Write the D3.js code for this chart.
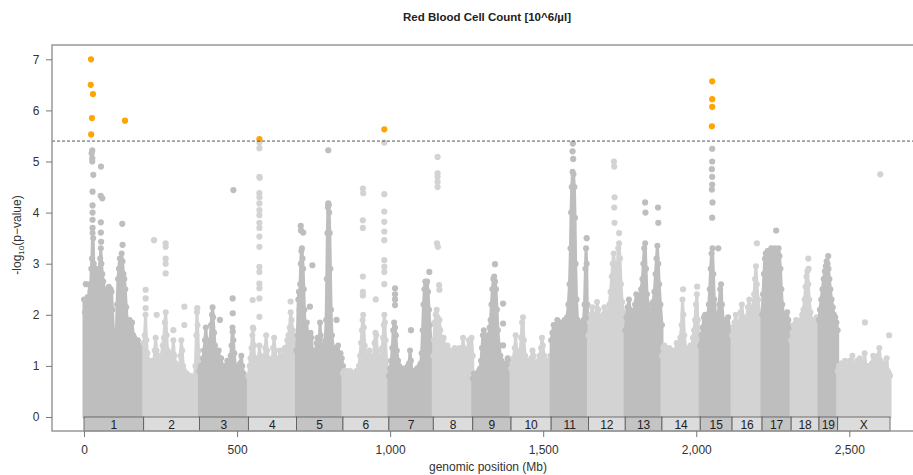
<!DOCTYPE html>
<html><head><meta charset="utf-8">
<script src="https://cdn.jsdelivr.net/npm/d3@7/dist/d3.min.js"></script>
<style>body{margin:0;background:#fff}svg{display:block}text{font-family:"Liberation Sans",Arial,sans-serif;fill:#333}</style>
</head><body><svg id="c" width="913" height="475"></svg>
<script>
// ---- data ----
const chrNames = ["1","2","3","4","5","6","7","8","9","10","11","12","13","14","15","16","17","18","19","X"];
const chrLengths = [195,182,160,157,152,150,145,129,125,131,122,120,120,125,104,98,95,91,61,171];
const xTicks = [0,500,1000,1500,2000,2500];
const yTicks = [0,1,2,3,4,5,6,7];
const threshold = 5.4;
// dense mass upper envelope per chromosome: [genomic Mb, -log10 p]
const massProfile = [
 [[0,2.3],[3,2.05],[6,2.25],[9,2.0],[12,2.35],[15,2.2],[18,2.6],[21,2.45],[24,2.9],[26,3.1],[28,3.6],[30,3.5],[32,3.0],[35,2.75],[38,2.9],[41,2.7],[44,2.85],[47,2.6],[50,2.9],[53,3.1],[55,3.3],[57,3.0],[60,2.8],[63,2.65],[66,2.5],[69,2.3],[72,2.45],[75,2.3],[78,2.5],[81,2.55],[84,2.35],[87,2.5],[90,2.45],[93,2.1],[96,1.7],[99,1.45],[102,1.35],[105,1.4],[108,2.2],[111,2.7],[114,2.9],[117,3.1],[120,3.0],[123,3.2],[126,3.05],[129,2.8],[132,2.7],[135,2.5],[138,2.15],[141,1.9],[145,1.8],[149,1.9],[153,1.75],[157,1.85],[161,1.6],[164,1.55],[168,1.5],[172,1.4],[176,1.5],[180,1.35],[184,1.4],[188,1.3],[192,1.25],[195,1.2]],
 [[195,1.45],[198,1.6],[201,2.0],[204,1.5],[207,1.25],[211,1.1],[215,1.0],[219,0.9],[223,1.1],[227,1.0],[231,1.3],[234,1.55],[237,1.3],[241,1.1],[245,1.2],[249,1.05],[253,1.2],[257,1.4],[261,1.55],[264,1.85],[267,2.05],[270,1.6],[273,1.3],[277,1.15],[281,1.2],[285,1.05],[289,1.25],[292,1.5],[295,1.2],[299,1.05],[303,1.0],[307,0.95],[311,0.85],[315,1.2],[318,1.5],[321,1.3],[324,1.0],[328,0.9],[332,0.8],[336,0.85],[340,0.8],[345,0.75],[350,0.8],[355,0.7],[360,0.75],[364,1.0],[367,1.6],[369,2.05],[371,1.8],[374,1.3],[377,1.1]],
 [[377,0.9],[381,1.0],[385,0.95],[389,1.15],[392,1.3],[395,1.5],[398,1.75],[401,1.5],[404,1.2],[408,1.3],[412,1.5],[415,1.8],[418,2.0],[420,2.15],[422,1.95],[425,1.65],[428,1.4],[432,1.25],[436,1.15],[440,1.3],[444,1.1],[448,1.15],[452,1.0],[456,0.95],[460,1.0],[464,0.9],[468,1.1],[471,1.0],[475,1.05],[479,1.2],[482,1.4],[485,1.75],[488,1.5],[491,1.25],[494,1.0],[498,0.95],[502,0.85],[506,0.9],[510,1.05],[514,1.2],[517,1.0],[521,0.85],[526,0.8],[531,0.75],[537,0.7]],
 [[537,0.8],[541,1.0],[544,1.15],[547,1.35],[550,1.6],[552,1.75],[555,1.4],[558,1.05],[562,1.15],[566,1.0],[570,1.1],[573,1.4],[576,1.2],[580,1.0],[584,0.95],[588,1.1],[592,1.35],[595,1.6],[598,1.3],[602,1.15],[606,1.0],[610,1.05],[614,1.0],[618,1.35],[621,1.55],[624,1.3],[628,1.1],[632,1.0],[636,1.15],[640,1.3],[644,1.05],[648,1.1],[652,1.2],[656,1.35],[660,1.3],[664,1.5],[668,1.6],[672,1.75],[675,2.05],[678,1.9],[682,1.7],[686,1.5],[690,1.4],[694,1.3]],
 [[694,1.3],[697,1.6],[700,2.3],[702,2.45],[704,2.1],[706,2.6],[708,3.0],[710,3.25],[712,3.3],[714,3.1],[716,2.9],[718,2.5],[720,2.1],[722,1.8],[725,1.5],[728,1.85],[731,1.5],[734,1.35],[737,1.4],[740,1.65],[743,1.55],[746,1.3],[749,1.2],[753,1.3],[757,1.25],[760,1.45],[763,1.55],[766,1.35],[769,1.5],[771,1.85],[773,1.6],[776,1.3],[780,1.4],[784,1.3],[788,1.5],[791,1.9],[793,2.7],[795,3.6],[797,4.1],[799,4.15],[801,4.0],[803,3.6],[805,2.9],[807,2.1],[810,1.6],[814,1.35],[818,1.3],[822,1.2],[826,1.35],[830,1.4],[834,1.2],[838,1.25],[842,1.15],[846,1.0]],
 [[846,0.85],[850,0.9],[854,0.85],[858,0.9],[862,0.8],[866,0.85],[870,0.9],[874,0.8],[878,0.75],[882,0.85],[886,0.8],[890,0.9],[894,0.85],[898,1.0],[902,1.2],[905,1.45],[908,1.7],[910,1.9],[912,2.0],[914,1.75],[917,1.4],[920,1.2],[924,1.05],[928,1.1],[932,1.3],[935,1.15],[938,1.0],[942,1.1],[946,1.2],[949,1.45],[952,1.65],[955,1.6],[958,1.3],[962,1.05],[966,1.1],[970,1.2],[974,1.35],[977,1.55],[979,1.8],[981,2.0],[983,1.85],[985,1.5],[988,1.1],[992,0.9],[996,0.8]],
 [[996,0.8],[1000,0.95],[1004,1.1],[1007,1.35],[1010,1.7],[1013,1.85],[1016,1.75],[1019,1.6],[1022,1.3],[1026,1.1],[1030,1.0],[1034,0.9],[1038,0.95],[1042,0.9],[1046,0.95],[1050,0.85],[1054,0.9],[1058,1.0],[1062,1.05],[1065,1.3],[1068,1.1],[1072,0.85],[1076,0.8],[1080,0.9],[1084,0.85],[1088,0.95],[1092,0.9],[1096,1.0],[1100,1.05],[1103,1.25],[1106,1.7],[1109,2.2],[1112,2.5],[1115,2.65],[1118,2.6],[1121,2.65],[1124,2.45],[1127,2.1],[1130,1.8],[1133,1.5],[1137,1.3],[1141,1.1]],
 [[1141,1.2],[1143,1.5],[1146,1.85],[1149,2.0],[1152,2.1],[1155,1.95],[1158,1.75],[1161,1.9],[1164,1.7],[1167,1.5],[1171,1.4],[1175,1.55],[1179,1.35],[1183,1.3],[1187,1.4],[1191,1.25],[1195,1.3],[1199,1.2],[1203,1.3],[1207,1.25],[1211,1.35],[1215,1.2],[1219,1.3],[1223,1.25],[1227,1.35],[1231,1.2],[1235,1.3],[1238,1.55],[1241,1.35],[1245,1.15],[1249,1.2],[1253,1.3],[1257,1.5],[1260,1.35],[1263,1.2],[1266,1.55],[1270,1.2]],
 [[1270,0.75],[1274,0.85],[1278,0.8],[1282,0.75],[1286,0.85],[1290,0.9],[1294,0.95],[1297,1.1],[1300,1.35],[1303,1.6],[1306,1.7],[1310,1.6],[1314,1.45],[1318,1.55],[1322,1.6],[1325,1.75],[1328,1.9],[1331,2.2],[1334,2.5],[1337,2.7],[1340,2.75],[1343,2.65],[1346,2.5],[1349,2.1],[1352,1.7],[1356,1.4],[1360,1.2],[1364,1.1],[1368,1.0],[1372,0.95],[1376,0.9],[1380,1.05],[1384,1.15],[1388,1.1],[1392,1.0],[1395,0.95]],
 [[1395,0.95],[1399,1.05],[1403,1.15],[1407,1.35],[1410,1.6],[1413,1.3],[1417,1.05],[1421,1.15],[1425,1.3],[1428,1.55],[1431,1.85],[1434,1.95],[1437,1.5],[1441,1.2],[1445,1.05],[1449,1.1],[1453,1.0],[1457,1.05],[1461,1.15],[1465,1.3],[1469,1.2],[1473,1.0],[1477,1.05],[1481,0.95],[1485,1.1],[1489,1.2],[1493,1.35],[1496,1.55],[1499,1.4],[1503,1.2],[1507,1.05],[1511,1.1],[1515,1.0],[1519,1.1],[1523,1.2],[1526,1.2]],
 [[1526,1.5],[1530,1.65],[1534,1.8],[1538,1.6],[1542,1.75],[1546,1.9],[1550,1.65],[1554,1.7],[1558,1.85],[1562,1.7],[1566,1.8],[1570,1.9],[1574,1.75],[1578,1.95],[1582,2.2],[1586,2.6],[1589,3.3],[1591,4.0],[1593,4.5],[1596,4.8],[1599,4.75],[1602,4.5],[1604,3.9],[1606,3.0],[1609,2.3],[1612,1.9],[1616,1.8],[1620,1.75],[1624,1.85],[1628,1.7],[1632,1.9],[1635,2.2],[1638,2.9],[1640,3.3],[1642,3.0],[1644,2.2],[1646,1.8],[1648,1.6]],
 [[1648,1.6],[1652,1.85],[1656,2.0],[1660,2.15],[1664,1.9],[1668,1.8],[1672,2.0],[1676,2.25],[1680,2.1],[1684,1.95],[1688,1.85],[1692,1.9],[1696,2.0],[1700,2.15],[1704,1.95],[1708,1.9],[1712,2.05],[1716,2.2],[1720,2.45],[1724,2.75],[1727,3.0],[1730,3.2],[1733,3.0],[1736,2.7],[1739,2.6],[1742,2.9],[1745,3.3],[1748,3.4],[1751,3.1],[1754,2.6],[1758,2.25],[1762,2.05],[1766,1.9],[1768,1.8]],
 [[1768,1.7],[1772,1.95],[1776,2.15],[1780,2.3],[1784,2.1],[1788,2.0],[1792,1.9],[1796,2.05],[1800,2.2],[1804,2.4],[1808,2.25],[1812,2.2],[1816,2.35],[1820,2.5],[1824,2.7],[1827,3.0],[1830,3.3],[1833,3.4],[1836,2.9],[1839,2.4],[1843,2.2],[1847,2.05],[1851,2.0],[1855,2.1],[1859,2.25],[1863,2.45],[1867,2.8],[1870,3.1],[1873,3.35],[1876,3.0],[1879,2.6],[1883,2.2],[1888,1.8]],
 [[1888,1.2],[1892,1.35],[1896,1.4],[1900,1.2],[1904,1.3],[1908,1.25],[1912,1.35],[1916,1.1],[1920,1.2],[1924,1.3],[1928,1.15],[1932,1.3],[1936,1.45],[1940,1.3],[1944,1.4],[1948,1.55],[1952,1.8],[1955,2.3],[1958,2.0],[1961,1.6],[1965,1.35],[1969,1.25],[1973,1.2],[1977,1.3],[1981,1.4],[1985,1.35],[1989,1.55],[1993,1.7],[1996,1.9],[1999,2.2],[2002,2.4],[2005,1.9],[2009,1.6],[2013,1.5]],
 [[2013,1.4],[2017,1.6],[2021,1.75],[2025,1.95],[2029,2.0],[2033,1.8],[2037,1.95],[2041,2.2],[2044,2.5],[2047,2.9],[2050,3.2],[2053,3.3],[2056,2.8],[2059,2.3],[2063,2.0],[2067,1.85],[2071,1.95],[2075,2.2],[2078,2.5],[2081,2.6],[2084,2.2],[2088,1.9],[2092,1.8],[2096,1.7],[2100,1.85],[2104,1.95],[2108,1.75],[2112,1.6],[2117,1.5]],
 [[2117,1.6],[2121,1.75],[2125,1.85],[2129,2.0],[2133,1.8],[2137,1.7],[2141,1.85],[2145,2.05],[2149,2.2],[2153,1.95],[2157,1.85],[2161,1.8],[2165,1.95],[2169,2.15],[2173,2.3],[2177,2.1],[2181,2.0],[2185,2.15],[2189,2.4],[2192,2.7],[2195,2.95],[2198,2.6],[2202,2.3],[2206,2.05],[2210,1.9],[2215,1.8]],
 [[2215,2.0],[2218,2.4],[2221,2.8],[2224,3.1],[2227,3.2],[2230,3.15],[2233,3.25],[2236,3.0],[2239,3.1],[2242,3.25],[2245,3.3],[2248,3.2],[2251,3.05],[2254,3.2],[2257,3.3],[2260,3.25],[2263,3.1],[2266,3.2],[2269,3.3],[2272,3.15],[2275,2.9],[2278,2.5],[2281,2.2],[2285,2.0],[2289,1.9],[2293,1.95],[2297,2.05],[2301,1.9],[2305,1.75],[2310,1.6]],
 [[2310,1.5],[2314,1.65],[2318,1.8],[2322,1.7],[2326,1.9],[2330,1.85],[2334,1.7],[2338,1.8],[2342,1.9],[2346,2.0],[2350,2.1],[2354,2.3],[2357,2.55],[2360,2.75],[2363,2.85],[2366,2.6],[2369,2.3],[2373,2.05],[2377,1.9],[2381,1.8],[2385,1.75],[2389,1.85],[2393,1.95],[2397,1.85],[2401,1.8]],
 [[2401,1.9],[2404,2.1],[2408,2.3],[2412,2.5],[2416,2.7],[2420,2.85],[2423,2.95],[2426,3.05],[2429,3.0],[2432,2.9],[2435,2.7],[2438,2.5],[2442,2.3],[2446,2.15],[2450,2.0],[2454,1.95],[2458,1.85],[2462,1.7]],
 [[2462,0.9],[2466,1.0],[2470,0.85],[2474,1.05],[2478,0.9],[2482,0.8],[2486,1.1],[2490,0.95],[2494,0.85],[2498,1.0],[2502,1.1],[2506,0.9],[2510,1.2],[2514,1.0],[2518,0.85],[2522,1.0],[2526,1.1],[2530,0.95],[2534,1.15],[2538,1.0],[2542,0.9],[2546,1.05],[2550,1.25],[2554,1.0],[2558,0.9],[2562,1.0],[2566,0.8],[2570,0.95],[2574,1.05],[2578,1.2],[2582,1.1],[2586,0.95],[2590,1.05],[2594,1.2],[2598,1.35],[2602,1.1],[2606,0.95],[2610,1.0],[2614,0.85],[2618,1.05],[2622,1.15],[2626,0.9],[2630,0.85],[2633,0.8]]
];
// sparse SNPs above the dense mass: [genomic Mb, -log10 p]
const sparseSNPs = [
 [27,5.22],[25,5.16],[27,5.06],[27,5.0],[30.4,4.74],[28,4.41],[28,4.14],[28,4.0],[28,3.86],[28,3.7],[55.5,4.9],[54.5,4.33],[59.8,4.28],[55,3.81],[55,3.61],[56,3.43],[125,3.78],[126,3.37],[6,2.6],
 [201.4,2.49],[201.4,2.32],[201.4,2.13],[228.7,3.46],[237.4,2.0],[266.8,3.4],[266.8,3.33],[266.8,3.1],[266.8,3.0],[266.8,2.81],[291.8,1.7],[327.8,2.16],[327.8,1.8],[370,2.13],
 [488,4.44],[485.6,2.32],[486,2.03],[444,1.9],[486,1.67],
 [573,5.37],[573,5.26],[573,4.7],[574,4.68],[573,4.38],[573,4.3],[573,4.18],[573,4.05],[573,3.95],[573,3.8],[573,3.7],[573,3.53],[573,3.33],[573,2.94],[573,2.84],[573,2.61],[573,2.52],[573,2.32],[573,1.96],[551,2.29],[553,1.73],[675,2.26],
 [798,5.22],[798,4.18],[799,4.15],[708,3.74],[709,3.65],[716,3.61],[746,2.97],[738,2.16],[825,1.9],
 [911,4.47],[912,4.38],[911,3.85],[911,3.7],[911,2.75],[911,2.45],[911,2.38],[953,2.3],[981,5.37],[981,4.36],[981,4.02],[981,3.82],[981,3.63],[981,3.46],[981,3.07],[981,2.94],[981,2.84],[981,2.6],
 [1016,2.52],[1016,2.4],[1016,2.3],[1016,2.19],[1068,1.7],[1128,2.84],
 [1155,5.09],[1155,4.77],[1155,4.7],[1155,4.6],[1155,4.5],[1153,3.4],[1156,3.33],[1160,2.58],[1161,2.49],
 [1342.6,2.99],[1369,2.22],[1369,1.83],[1369,1.4],
 [1597,5.35],[1596,5.2],[1598,5.05],[1642,3.5],
 [1731,5.0],[1732,4.9],[1733,4.3],[1732,4.1],[1733,3.8],[1748,3.6],
 [1833,4.2],[1834,4.0],[1875,4.1],[1876,3.8],
 [1957,2.5],[2003,2.55],
 [2052,5.25],[2052,5.0],[2051,4.85],[2052,4.7],[2052,4.55],[2051,4.45],[2053,4.2],[2052,3.9],[2072,3.3],
 [2198,3.4],[2261,3.65],[2366,3.1],[2367,2.9],[2431,3.15],
 [2601,4.75],[2551,1.85],[2630,1.6]
];
// genome-wide significant SNPs
const sigSNPs = [[23,7.0],[22,6.5],[29.4,6.32],[26,5.85],[23.5,5.53],[134,5.8],[573,5.44],[981,5.63],[2052,6.57],[2052,6.22],[2052,6.07],[2051,5.69]];

// ---- chart ----
const W=913,H=475;
const svg=d3.select("#c");
svg.append("rect").attr("width",W).attr("height",H).attr("fill","#fff");
const x=d3.scaleLinear().domain([-104.5,2708]).range([52,913]);
const y=d3.scaleLinear().domain([-0.274,7.28]).range([431,45]);
const starts=[];let acc=0;chrLengths.forEach(l=>{starts.push(acc);acc+=l;});
const colDark="#bebebe",colLight="#d3d3d3";
const chrOf=p=>{for(let i=starts.length-1;i>=0;i--) if(p>=starts[i]) return i; return 0;};
const colorOf=i=>i%2===0?colDark:colLight;

const plot=svg.append("g");
const area=d3.area().x(d=>x(d[0])).y0(y(0)).y1(d=>y(d[1]));
massProfile.forEach((prof,i)=>{
  const g=plot.append("g");
  g.append("path").attr("d",area(prof)).attr("fill",colorOf(i))
    .attr("stroke",colorOf(i)).attr("stroke-width",3).attr("stroke-linejoin","round");
  g.selectAll("circle").data(prof).join("circle")
    .attr("cx",d=>x(d[0])).attr("cy",d=>y(d[1])).attr("r",3).attr("fill",colorOf(i));
});
plot.selectAll("circle.s").data(sparseSNPs).join("circle").attr("class","s")
  .attr("cx",d=>x(d[0])).attr("cy",d=>y(d[1])).attr("r",3.1).attr("fill",d=>colorOf(chrOf(d[0])));
plot.selectAll("circle.g").data(sigSNPs).join("circle").attr("class","g")
  .attr("cx",d=>x(d[0])).attr("cy",d=>y(d[1])).attr("r",3.1).attr("fill","#ffa500");

// threshold
svg.append("line").attr("x1",52).attr("x2",913).attr("y1",y(threshold)).attr("y2",y(threshold))
  .attr("stroke","#555").attr("stroke-width",1).attr("stroke-dasharray","3,2");

// chromosome bar
const bar=svg.append("g");
chrNames.forEach((n,i)=>{
  bar.append("rect").attr("x",x(starts[i])).attr("y",417).attr("width",x(starts[i]+chrLengths[i])-x(starts[i])).attr("height",14)
    .attr("fill",i%2===0?"#c4c4c4":"#dcdcdc").attr("stroke","#555").attr("stroke-width",0.8);
  bar.append("text").attr("x",x(starts[i]+chrLengths[i]/2)).attr("y",428.5).attr("text-anchor","middle")
    .attr("font-size",12).style("fill","#222").text(n);
});

// frame
svg.append("path").attr("d",`M913,45H52V431H913`).attr("fill","none").attr("stroke","#999").attr("stroke-width",1.5);

// axes
const xa=svg.append("g").attr("transform","translate(0,431)").call(d3.axisBottom(x).tickValues(xTicks).tickSize(6).tickSizeOuter(0));
xa.select(".domain").remove();
xa.selectAll("line").attr("stroke","#777");
xa.selectAll("text").attr("font-size",12).attr("dy","1.2em").style("fill","#333").attr("font-family","Liberation Sans, Arial");
const ya=svg.append("g").attr("transform","translate(52,0)").call(d3.axisLeft(y).tickValues(yTicks).tickSize(6).tickSizeOuter(0));
ya.select(".domain").remove();
ya.selectAll("line").attr("stroke","#777");
ya.selectAll("text").attr("font-size",12).attr("dx","-0.3em").style("fill","#333").attr("font-family","Liberation Sans, Arial");

// titles
svg.append("text").attr("x",487).attr("y",21).attr("text-anchor","middle").attr("font-size",11.5).attr("font-weight","bold")
  .style("fill","#222").text("Red Blood Cell Count [10^6/µl]");
svg.append("text").attr("x",488).attr("y",471).attr("text-anchor","middle").attr("font-size",12).text("genomic position (Mb)");
const yl=svg.append("text").attr("transform","translate(21,235) rotate(-90)").attr("text-anchor","middle").attr("font-size",12);
yl.append("tspan").text("-log");
yl.append("tspan").attr("font-size",8).attr("dy",3).text("10");
yl.append("tspan").attr("dy",-3).text("(p\u2212value)");
</script></body></html>
